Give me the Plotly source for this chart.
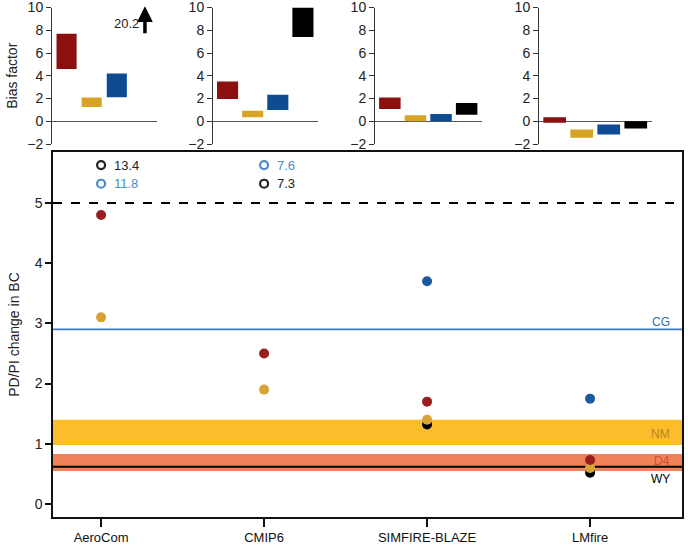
import plotly.graph_objects as go

# ---------------------------------------------------------------------------
# data
# ---------------------------------------------------------------------------
models = ['AeroCom', 'CMIP6', 'SIMFIRE-BLAZE', 'LMfire']
sites = ['D4', 'NM', 'CG', 'WY']

# bias factor ranges (low, high) per model, per site; None = not shown
bias_low = [
    [4.6, 1.25, 2.1, None],
    [1.95, 0.35, 1.0, 7.4],
    [1.08, 0.0, 0.0, 0.58],
    [-0.14, -1.45, -1.16, -0.63],
]
bias_high = [
    [7.7, 2.09, 4.2, None],
    [3.5, 0.93, 2.32, 10.0],
    [2.09, 0.52, 0.64, 1.6],
    [0.35, -0.72, -0.29, 0.0],
]
offscale_bias = 20.2  # AeroCom WY

# PD/PI change in BC simulated at each site (None = off the scale)
change_d4 = [4.8, 2.5, 1.7, 0.73]
change_nm = [3.1, 1.9, 1.4, 0.6]
change_cg = [None, None, 3.7, 1.75]
change_wy = [None, None, 1.32, 0.52]

# off-scale values, listed as labels at the top of the panel
off_models = ['AeroCom', 'AeroCom', 'CMIP6', 'CMIP6']
off_sites = ['WY', 'CG', 'CG', 'WY']
off_values = [13.4, 11.8, 7.6, 7.3]

# observed changes from the ice cores
obs_cg = 2.9
obs_nm = (0.98, 1.4)
obs_d4 = (0.55, 0.83)
obs_wy = 0.62
ref_line = 5

colors_bar = {'D4': '#8c1010', 'NM': '#d9a326', 'CG': '#0f4b93', 'WY': '#000000'}
colors_pt = {'D4': '#9a1d22', 'NM': '#d8a236', 'CG': '#1c5a9e', 'WY': '#000000'}
colors_off = {'CG': '#4a8ccc', 'WY': '#222222'}

FONT = 'Liberation Sans, Arial, Helvetica, sans-serif'
W, H = 688, 545


def px_x(p):
    return p / W


def px_y(p):
    return 1 - p / H


fig = go.Figure()

# ---------------------------------------------------------------------------
# top row: bias factor panels
# ---------------------------------------------------------------------------
top_dom = [(52, 157), (213, 318), (375, 482), (539, 652)]
for i, m in enumerate(models):
    ax = '' if i == 0 else str(i + 1)
    for j, s in enumerate(sites):
        lo, hi = bias_low[i][j], bias_high[i][j]
        if lo is None:
            continue
        fig.add_trace(go.Bar(
            x=[j + 1], y=[hi - lo], base=[lo],
            width=0.84 if i else 0.8,
            marker=dict(color=colors_bar[s], line=dict(width=0)),
            showlegend=False, hoverinfo='skip',
            xaxis='x' + ax, yaxis='y' + ax))
    x0, x1 = top_dom[i]
    fig.layout['xaxis' + ax] = dict(
        domain=[px_x(x0), px_x(x1)], range=[0.42, 4.6],
        showline=False, showticklabels=False, ticks='', showgrid=False,
        zeroline=False, anchor='y' + ax)
    fig.layout['yaxis' + ax] = dict(
        domain=[px_y(144), px_y(7.5)], range=[-2, 10],
        tickvals=[-2, 0, 2, 4, 6, 8, 10],
        ticktext=['\u22122', '0', '2', '4', '6', '8', '10'],
        showline=True, linecolor='#333', linewidth=1,
        ticks='outside', ticklen=5, tickcolor='#333',
        showgrid=False, zeroline=True, zerolinecolor='#555', zerolinewidth=1.2,
        tickfont=dict(size=14, color='#222', family=FONT),
        ticklabeloverflow='allow',
        anchor='x' + ax)

fig.layout.yaxis.title = dict(text='Bias factor', standoff=6,
                              font=dict(size=14, color='#222', family=FONT))

# off-scale bias value with arrow (AeroCom, WY)
fig.add_annotation(x=4.12, y=10.1, ax=4.12, ay=7.6, xref='x', yref='y', axref='x', ayref='y',
                   text='', showarrow=True, arrowhead=2, arrowsize=0.9,
                   arrowwidth=3.5, arrowcolor='#000')
fig.add_annotation(x=3.95, y=8.6, xref='x', yref='y', text=str(offscale_bias),
                   showarrow=False, xanchor='right',
                   font=dict(size=13, color='#222', family=FONT))

# ---------------------------------------------------------------------------
# main panel: PD/PI change in BC
# ---------------------------------------------------------------------------
xpos = list(range(1, len(models) + 1))
xr = [0.705, 4.564]

# observation bands and lines
fig.add_shape(type='rect', xref='x5', yref='y5', x0=xr[0], x1=xr[1],
              y0=obs_nm[0], y1=obs_nm[1], fillcolor='#fbbd2a', line_width=0, layer='below')
fig.add_shape(type='rect', xref='x5', yref='y5', x0=xr[0], x1=xr[1],
              y0=obs_d4[0], y1=obs_d4[1], fillcolor='#f0825a', line_width=0, layer='below')
fig.add_shape(type='line', xref='x5', yref='y5', x0=xr[0], x1=xr[1],
              y0=obs_wy, y1=obs_wy, line=dict(color='#000', width=2), layer='below')
fig.add_shape(type='line', xref='x5', yref='y5', x0=xr[0], x1=xr[1],
              y0=obs_cg, y1=obs_cg, line=dict(color='#3d7dc0', width=1.8), layer='below')
fig.add_shape(type='line', xref='x5', yref='y5', x0=xr[0], x1=xr[1],
              y0=ref_line, y1=ref_line, line=dict(color='#000', width=2, dash='dash'),
              layer='below')

# site labels at the right
for txt, yv, col in [('CG', obs_cg + 0.13, '#2f6aa8'),
                     ('NM', (obs_nm[0] + obs_nm[1]) / 2 - 0.03, '#b8861e'),
                     ('D4', (obs_d4[0] + obs_d4[1]) / 2 + 0.03, '#d94a32'),
                     ('WY', obs_wy - 0.2, '#000')]:
    fig.add_annotation(x=xr[1] - 0.06, y=yv, xref='x5', yref='y5', text=txt,
                       showarrow=False, xanchor='right',
                       font=dict(size=12, color=col, family=FONT))

# simulated points (black first so that yellow sits on top)
for s, vals in [('WY', change_wy), ('NM', change_nm), ('D4', change_d4), ('CG', change_cg)]:
    xs = [x for x, v in zip(xpos, vals) if v is not None]
    ys = [v for v in vals if v is not None]
    fig.add_trace(go.Scatter(x=xs, y=ys, mode='markers',
                             marker=dict(size=10, color=colors_pt[s]),
                             showlegend=False, hoverinfo='skip',
                             xaxis='x5', yaxis='y5'))

# off-scale values: open circles with the value next to them
row_y = [5.63, 5.32]
seen = {}
for m, s, v in zip(off_models, off_sites, off_values):
    k = seen.get(m, 0)
    seen[m] = k + 1
    xm = xpos[models.index(m)]
    fig.add_trace(go.Scatter(x=[xm], y=[row_y[k]], mode='markers',
                             marker=dict(symbol='circle-open', size=8, color=colors_off[s],
                                         line=dict(width=2.2, color=colors_off[s])),
                             showlegend=False, hoverinfo='skip',
                             xaxis='x5', yaxis='y5'))
    fig.add_annotation(x=xm + 0.07, y=row_y[k], xref='x5', yref='y5', text=str(v),
                       showarrow=False, xanchor='left',
                       font=dict(size=13, color=colors_off[s], family=FONT))

fig.layout.xaxis5 = dict(
    domain=[px_x(53), px_x(682)], range=xr, tickvals=xpos, ticktext=models,
    showline=True, mirror=True, linecolor='#111', linewidth=1.5,
    ticks='outside', ticklen=8, tickwidth=1.5, tickcolor='#111',
    showgrid=False, zeroline=False, anchor='y5',
    tickfont=dict(size=13, color='#111', family=FONT))
fig.layout.yaxis5 = dict(
    domain=[px_y(517), px_y(152)], range=[-0.216, 5.847], tickvals=[0, 1, 2, 3, 4, 5],
    showline=True, mirror=True, linecolor='#111', linewidth=1.5,
    ticks='outside', ticklen=6, tickwidth=1.5, tickcolor='#111',
    showgrid=False, zeroline=False, anchor='x5',
    title=dict(text='PD/PI change in BC', standoff=12,
               font=dict(size=14, color='#222', family=FONT)),
    tickfont=dict(size=14, color='#222', family=FONT))

fig.update_layout(width=W, height=H, margin=dict(l=0, r=0, t=0, b=0),
                  plot_bgcolor='white', paper_bgcolor='white',
                  barmode='overlay', template=None)

# the page's default body margin would push the figure off by 8 px
fig.write_html('out.html', config={'displayModeBar': False},
               post_script="document.body.style.margin='0';document.body.style.overflow='hidden';")
